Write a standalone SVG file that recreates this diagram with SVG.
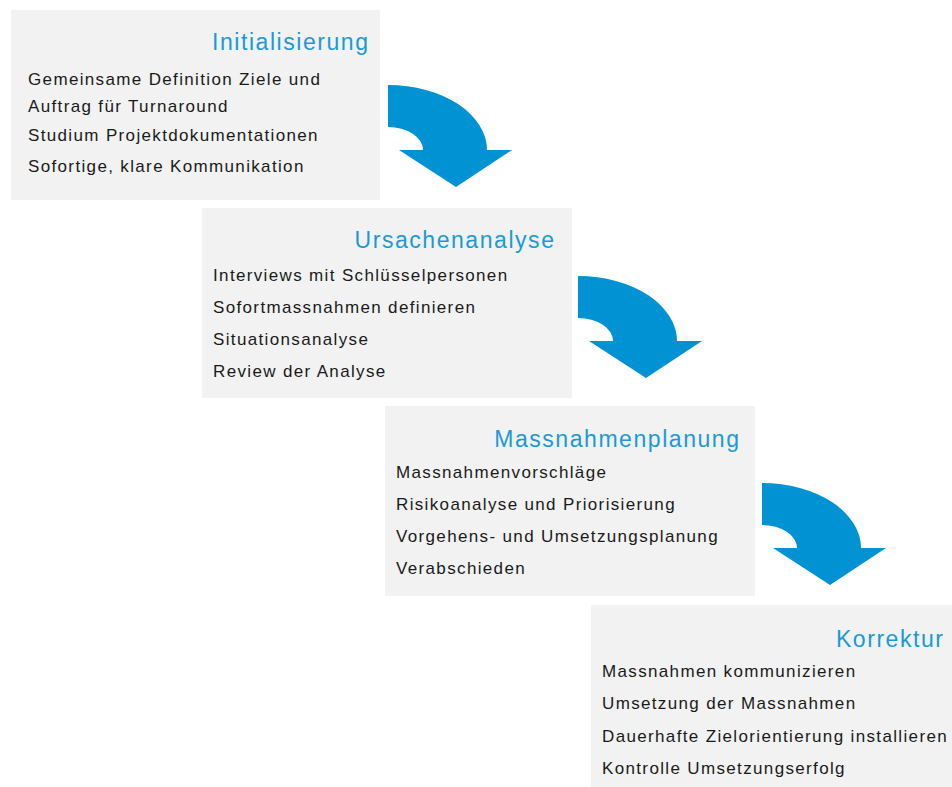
<svg xmlns="http://www.w3.org/2000/svg" width="952" height="787" viewBox="0 0 952 787">
<defs>
<style>
.box{fill:#f2f2f2}
.title{font-family:"Liberation Sans",Arial,sans-serif;font-size:23px;fill:#1b9ad6;text-anchor:end;letter-spacing:1.55px}
.item{font-family:"Liberation Sans",Arial,sans-serif;font-size:17px;fill:#1a1a1a;letter-spacing:1.35px}
.arrow{fill:#0092d2}
</style>
<path id="arr" d="M0,0 A99,65 0 0 1 99,65 L124,65 L68,102 L11,65 L35,65 A35,23 0 0 0 0,42 Z"/>
</defs>
<rect width="952" height="787" fill="#ffffff"/>
<g id="node-initialisierung">
<rect class="box" x="11" y="10" width="369" height="190"/>
<text class="title" x="369.5" y="50">Initialisierung</text>
<text class="item" x="28" y="85">Gemeinsame Definition Ziele und</text>
<text class="item" x="28" y="112">Auftrag für Turnaround</text>
<text class="item" x="28" y="141">Studium Projektdokumentationen</text>
<text class="item" x="28" y="172">Sofortige, klare Kommunikation</text>
</g>
<g id="node-ursachenanalyse">
<rect class="box" x="202" y="208" width="370" height="190"/>
<text class="title" x="555.5" y="248">Ursachenanalyse</text>
<text class="item" x="213" y="281">Interviews mit Schlüsselpersonen</text>
<text class="item" x="213" y="313">Sofortmassnahmen definieren</text>
<text class="item" x="213" y="345">Situationsanalyse</text>
<text class="item" x="213" y="377">Review der Analyse</text>
</g>
<g id="node-massnahmenplanung">
<rect class="box" x="385" y="406" width="370" height="190"/>
<text class="title" x="740.5" y="447">Massnahmenplanung</text>
<text class="item" x="396" y="478">Massnahmenvorschläge</text>
<text class="item" x="396" y="510">Risikoanalyse und Priorisierung</text>
<text class="item" x="396" y="542">Vorgehens- und Umsetzungsplanung</text>
<text class="item" x="396" y="574">Verabschieden</text>
</g>
<g id="node-korrektur">
<rect class="box" x="591" y="605" width="361" height="182"/>
<text class="title" x="944.5" y="647">Korrektur</text>
<text class="item" x="602" y="677">Massnahmen kommunizieren</text>
<text class="item" x="602" y="709">Umsetzung der Massnahmen</text>
<text class="item" x="602" y="742">Dauerhafte Zielorientierung installieren</text>
<text class="item" x="602" y="774">Kontrolle Umsetzungserfolg</text>
</g>
<g id="connectors">
<use href="#arr" class="arrow" x="388" y="85"/>
<use href="#arr" class="arrow" x="578" y="276"/>
<use href="#arr" class="arrow" x="762" y="483"/>
</g>
</svg>
